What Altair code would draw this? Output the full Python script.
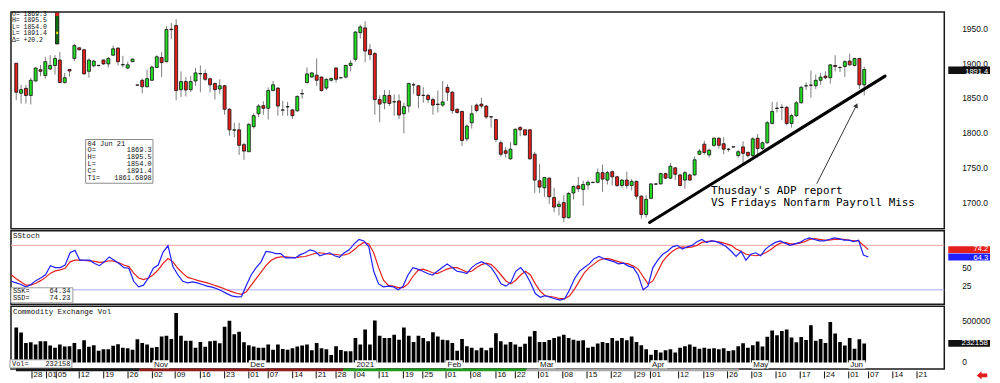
import altair as alt
import pandas as pd

# ---------------- data ----------------
opens = [1900.4, 1857.3, 1864.3, 1854.1, 1874.9, 1891.1, 1882.8, 1892.1, 1897.2, 1905.0,
         1872.6, 1891.6, 1907.3, 1922.6, 1919.8, 1888.8, 1896.7, 1897.0, 1905.0, 1899.5,
         1912.0, 1922.2, 1898.1, 1893.5, 1902.7, 1869.2, 1875.9, 1866.6, 1875.9, 1894.4,
         1908.7, 1902.7, 1949.5, 1954.6, 1862.4, 1874.0, 1862.4, 1874.9, 1885.1, 1885.6,
         1878.2, 1871.2, 1863.4, 1868.0, 1834.2, 1804.1, 1804.6, 1783.3, 1773.1, 1809.2,
         1827.7, 1839.3, 1835.6, 1861.1, 1864.7, 1833.0, 1837.5, 1833.3, 1831.9, 1856.3,
         1872.6, 1880.5, 1883.3, 1880.5, 1864.7, 1875.9, 1893.5, 1879.6, 1880.5, 1897.2,
         1906.0, 1944.4, 1951.3, 1919.8, 1914.3, 1848.1, 1843.5, 1854.1, 1844.8, 1846.2,
         1827.7, 1838.8, 1869.5, 1868.0, 1854.3, 1854.1, 1848.1, 1841.6, 1840.2, 1865.7,
         1858.7, 1834.2, 1831.0, 1791.6, 1814.7, 1840.2, 1841.6, 1838.8, 1823.3, 1819.4,
         1786.0, 1774.5, 1762.9, 1783.3, 1807.8, 1804.6, 1804.6, 1769.4, 1731.4, 1721.2,
         1735.1, 1707.3, 1694.4, 1699.9, 1678.2, 1713.8, 1724.0, 1718.9, 1725.4, 1729.1,
         1729.1, 1743.0, 1732.3, 1744.4, 1737.0, 1724.5, 1732.3, 1724.5, 1730.5, 1709.2,
         1682.8, 1706.0, 1726.8, 1726.8, 1741.6, 1735.1, 1749.9, 1739.7, 1732.3, 1739.7,
         1739.7, 1769.4, 1784.0, 1768.5, 1782.3, 1792.5, 1784.6, 1776.8, 1779.9, 1767.5,
         1780.0, 1772.2, 1767.5, 1792.5, 1777.7, 1786.0, 1813.8, 1835.4, 1836.8, 1837.0,
         1813.8, 1825.0, 1843.5, 1867.8, 1869.0, 1868.0, 1875.9, 1881.9, 1879.6, 1897.2,
         1894.4, 1895.8, 1903.6, 1897.2, 1907.3, 1869.3]
highs = [1900.4, 1869.4, 1869.4, 1879.6, 1894.4, 1898.1, 1909.7, 1912.0, 1912.0, 1916.6,
         1886.5, 1891.6, 1928.2, 1923.6, 1921.2, 1907.3, 1905.0, 1898.0, 1906.0, 1909.7,
         1925.9, 1923.6, 1911.1, 1902.7, 1907.0, 1869.5, 1878.6, 1891.1, 1897.2, 1912.0,
         1916.6, 1953.6, 1958.3, 1963.8, 1888.8, 1880.5, 1881.9, 1893.5, 1897.2, 1891.1,
         1879.6, 1872.6, 1877.3, 1869.4, 1835.6, 1814.8, 1814.8, 1786.0, 1814.8, 1828.6,
         1841.6, 1845.8, 1865.7, 1875.0, 1865.7, 1846.2, 1844.8, 1834.7, 1854.1, 1863.4,
         1894.4, 1887.9, 1907.3, 1881.4, 1878.6, 1879.6, 1894.9, 1880.0, 1898.1, 1905.0,
         1946.7, 1956.0, 1960.6, 1928.2, 1916.6, 1854.1, 1862.0, 1862.0, 1855.5, 1855.5,
         1843.5, 1872.6, 1872.6, 1869.4, 1865.7, 1856.4, 1850.9, 1861.1, 1874.9, 1870.3,
         1860.1, 1835.6, 1832.4, 1812.4, 1840.2, 1842.5, 1850.9, 1840.2, 1825.0, 1820.3,
         1789.3, 1780.0, 1787.0, 1806.4, 1810.1, 1804.6, 1805.5, 1773.1, 1755.5, 1737.0,
         1736.0, 1721.2, 1702.7, 1710.6, 1715.2, 1724.5, 1737.0, 1731.4, 1732.3, 1730.0,
         1749.0, 1754.6, 1745.3, 1746.2, 1738.4, 1733.7, 1744.4, 1733.7, 1731.4, 1710.6,
         1710.6, 1727.7, 1727.5, 1743.0, 1743.0, 1756.9, 1750.9, 1741.6, 1745.3, 1741.6,
         1766.1, 1776.8, 1789.0, 1777.7, 1793.9, 1793.9, 1793.9, 1778.6, 1781.0, 1775.4,
         1787.9, 1773.1, 1793.9, 1798.5, 1787.9, 1817.1, 1844.8, 1844.8, 1841.6, 1838.8,
         1827.7, 1846.2, 1868.0, 1872.6, 1889.8, 1884.2, 1886.5, 1888.8, 1899.0, 1912.0,
         1895.8, 1905.0, 1914.3, 1908.3, 1908.3, 1895.5]
lows = [1847.2, 1842.5, 1842.5, 1841.1, 1874.0, 1881.9, 1878.2, 1890.7, 1884.2, 1872.6,
        1871.2, 1881.0, 1903.6, 1918.9, 1884.2, 1879.6, 1894.4, 1896.0, 1898.1, 1894.4,
        1911.1, 1897.2, 1894.4, 1892.1, 1902.0, 1868.5, 1857.3, 1865.7, 1874.9, 1893.5,
        1880.5, 1901.8, 1935.1, 1847.2, 1851.8, 1852.7, 1858.7, 1868.0, 1858.7, 1874.9,
        1858.7, 1848.1, 1856.4, 1826.3, 1796.2, 1793.9, 1768.5, 1761.5, 1773.1, 1806.4,
        1823.1, 1826.3, 1819.4, 1860.1, 1824.9, 1824.9, 1824.9, 1820.3, 1831.0, 1849.5,
        1871.2, 1879.6, 1868.0, 1859.7, 1862.0, 1874.0, 1872.6, 1879.0, 1878.6, 1888.8,
        1902.7, 1936.0, 1901.8, 1905.0, 1826.3, 1815.7, 1834.2, 1838.8, 1824.9, 1820.3,
        1799.5, 1829.6, 1856.4, 1835.6, 1843.5, 1843.5, 1826.3, 1829.6, 1837.9, 1846.2,
        1827.7, 1827.7, 1781.4, 1787.9, 1806.4, 1829.6, 1835.6, 1820.3, 1807.8, 1787.0,
        1766.1, 1764.7, 1761.5, 1782.3, 1795.3, 1796.2, 1761.5, 1713.8, 1713.8, 1708.3,
        1698.1, 1686.0, 1681.4, 1672.1, 1676.8, 1704.6, 1715.2, 1695.3, 1718.5, 1728.0,
        1727.7, 1715.2, 1725.9, 1724.5, 1722.2, 1721.2, 1719.8, 1717.5, 1704.6, 1676.8,
        1678.2, 1704.6, 1726.0, 1725.9, 1733.7, 1733.7, 1732.3, 1723.1, 1719.8, 1731.4,
        1738.4, 1768.5, 1769.0, 1764.7, 1780.0, 1777.7, 1769.4, 1773.1, 1779.0, 1764.7,
        1755.5, 1764.7, 1764.7, 1764.7, 1775.4, 1784.6, 1812.4, 1829.6, 1818.5, 1811.0,
        1807.8, 1823.1, 1842.5, 1862.0, 1850.9, 1863.4, 1869.4, 1877.3, 1871.2, 1888.8,
        1887.9, 1880.5, 1897.2, 1895.8, 1863.4, 1854.0]
closes = [1858.7, 1862.4, 1854.1, 1875.9, 1893.5, 1888.8, 1902.7, 1897.2, 1907.3, 1872.6,
          1879.6, 1889.3, 1925.9, 1919.8, 1885.1, 1905.0, 1903.6, 1897.4, 1899.5, 1907.3,
          1921.2, 1902.7, 1898.6, 1898.1, 1906.4, 1868.9, 1866.6, 1878.2, 1894.9, 1909.7,
          1901.3, 1949.0, 1948.8, 1861.1, 1874.0, 1862.0, 1874.0, 1886.5, 1885.6, 1877.3,
          1869.4, 1862.4, 1868.0, 1834.2, 1804.6, 1804.6, 1782.3, 1774.0, 1812.4, 1825.0,
          1838.8, 1835.6, 1861.1, 1869.4, 1838.8, 1833.3, 1838.0, 1825.0, 1852.7, 1856.8,
          1885.1, 1886.5, 1875.9, 1861.1, 1877.3, 1878.6, 1877.3, 1879.4, 1897.2, 1900.4,
          1945.3, 1952.7, 1918.0, 1912.9, 1848.1, 1841.6, 1854.1, 1842.5, 1845.0, 1825.9,
          1837.9, 1871.2, 1869.1, 1854.1, 1854.1, 1848.1, 1840.2, 1841.0, 1844.8, 1858.7,
          1832.4, 1829.6, 1789.3, 1810.1, 1827.7, 1832.4, 1838.8, 1823.1, 1823.1, 1790.7,
          1769.4, 1770.8, 1776.8, 1805.5, 1804.6, 1797.2, 1762.9, 1732.3, 1722.2, 1736.0,
          1708.3, 1693.4, 1697.5, 1678.2, 1712.9, 1723.1, 1719.8, 1725.9, 1729.1, 1728.7,
          1743.0, 1733.7, 1743.0, 1737.0, 1724.5, 1732.3, 1724.5, 1730.5, 1709.2, 1682.8,
          1704.6, 1726.8, 1726.4, 1741.6, 1735.1, 1752.2, 1740.7, 1724.5, 1743.0, 1732.3,
          1761.5, 1774.0, 1772.0, 1775.4, 1792.5, 1782.3, 1776.8, 1776.5, 1780.2, 1773.1,
          1770.8, 1767.5, 1791.6, 1777.7, 1786.0, 1814.8, 1831.0, 1835.8, 1837.0, 1813.8,
          1825.0, 1843.5, 1865.7, 1868.0, 1868.8, 1875.9, 1880.5, 1879.6, 1898.1, 1895.8,
          1894.2, 1902.7, 1898.1, 1907.3, 1869.4, 1891.4]
volumes = [426000, 364000, 238000, 246000, 219000, 258000, 258000, 207000, 180000, 219000,
           195000, 199000, 238000, 160000, 270000, 191000, 211000, 144000, 160000, 160000,
           203000, 223000, 180000, 172000, 156000, 282000, 238000, 219000, 180000, 188000,
           317000, 325000, 286000, 602000, 325000, 266000, 266000, 180000, 250000, 191000,
           258000, 266000, 235000, 434000, 508000, 344000, 375000, 246000, 211000, 195000,
           180000, 180000, 219000, 156000, 219000, 164000, 156000, 172000, 195000, 207000,
           219000, 148000, 238000, 172000, 160000, 90000, 199000, 152000, 137000, 137000,
           297000, 219000, 403000, 219000, 512000, 325000, 297000, 297000, 337000, 278000,
           426000, 325000, 250000, 325000, 297000, 258000, 368000, 317000, 278000, 270000,
           238000, 144000, 286000, 199000, 180000, 148000, 180000, 148000, 180000, 356000,
           258000, 219000, 250000, 219000, 191000, 227000, 317000, 383000, 250000, 250000,
           274000, 297000, 317000, 337000, 297000, 278000, 266000, 270000, 180000, 191000,
           231000, 250000, 238000, 297000, 266000, 297000, 270000, 317000, 250000, 211000,
           160000, 94000, 152000, 121000, 148000, 160000, 121000, 180000, 199000, 219000,
           191000, 168000, 180000, 168000, 172000, 160000, 172000, 141000, 148000, 199000,
           235000, 180000, 211000, 254000, 195000, 313000, 391000, 333000, 383000, 403000,
           305000, 246000, 309000, 274000, 454000, 266000, 286000, 238000, 493000, 352000,
           250000, 207000, 297000, 168000, 282000, 232158]
ssk = [31.5, 29.3, 27.1, 23.6, 27.1, 32.4, 35.9, 40.3, 52.6, 50.0,
       50.0, 53.5, 70.1, 73.2, 60.0, 60.0, 60.0, 55.6, 52.6, 57.8,
       64.4, 60.0, 55.6, 50.0, 49.1, 31.5, 24.1, 26.3, 35.9, 49.1,
       53.5, 71.0, 79.8, 51.3, 40.3, 31.5, 29.3, 30.6, 29.3, 27.1,
       24.9, 23.6, 21.4, 18.4, 14.9, 11.8, 10.5, 10.9, 26.3, 40.3,
       50.0, 57.8, 71.9, 71.0, 68.8, 68.8, 63.1, 63.1, 63.1, 67.5,
       70, 74, 72, 66, 68, 70, 66, 64, 70, 74, 82, 88, 86,
       78, 45, 28, 24, 25, 24, 20, 25, 40, 50, 48, 45,
       42, 40, 45, 50, 55, 50, 45, 44, 42, 50, 55, 58, 55, 50, 40, 28,
       25, 30, 45, 50, 42, 30, 15, 10, 12, 10, 8, 6, 8, 20, 35,
       45, 50, 55, 62, 65, 62, 60, 58, 55, 56, 52, 50, 40, 20, 25,
       50, 60, 68, 72, 78, 80, 75, 78, 80, 85, 88, 84, 86, 85, 82,
       78, 72, 65, 72, 60, 68, 70, 66, 75, 80, 84, 86, 83, 80, 82,
       84, 88, 90, 88, 86, 86, 88, 90, 89, 87, 87, 85, 87, 67, 64.34]
ssd = [40.3, 35.0, 30.6, 26.3, 26.3, 28.9, 32.4, 36.8, 42.5, 45.6,
       46.9, 49.1, 57.8, 60.0, 60.0, 59.6, 59.2, 58.3, 57.0, 57.8,
       59.2, 58.7, 56.5, 53.5, 51.3, 42.5, 35.9, 33.7, 35.9, 40.3,
       46.9, 55.6, 62.2, 57.8, 49.1, 42.5, 36.8, 35.0, 32.8, 31.1,
       29.3, 27.1, 24.9, 22.7, 20.1, 17.5, 15.3, 14.0, 17.5, 26.3,
       35.0, 43.8, 52.6, 59.6, 63.1, 64.4, 64.4, 64.0, 63.5, 64.4,
       65, 67, 69, 70, 69, 68, 68, 67, 67, 69, 74, 80, 84,
       82, 70, 50, 33, 26, 25, 23, 23, 28, 38, 46, 48,
       46, 43, 42, 45, 48, 50, 50, 47, 44, 45, 50, 54, 56, 54, 48, 40,
       32, 28, 33, 40, 45, 40, 28, 18, 12, 11, 10, 8, 8, 12, 21,
       32, 43, 50, 55, 60, 62, 62, 60, 58, 56, 55, 52, 48, 38, 28,
       32, 45, 58, 66, 72, 76, 78, 77, 78, 80, 84, 85, 86, 85, 84,
       82, 80, 75, 72, 68, 67, 66, 67, 70, 74, 79, 83, 84, 82, 82,
       83, 85, 88, 89, 88, 87, 87, 88, 88, 88, 87, 86, 86, 80, 74.23]

price_ticks = [1700, 1750, 1800, 1850, 1900, 1950]
stoch_ticks = [25, 50]
vol_ticks = [0, 500000]
tick_pos = [3.25, 6.26, 8.26, 13.0, 18.05, 23.07, 28.1, 32.8, 38.0, 43.0,
            48.0, 52.0, 57.05, 61.9, 66.0, 69.9, 74.9, 79.9, 83.9, 88.7,
            93.8, 99.0, 103.0, 107.8, 112.8, 117.8, 122.8, 127.7, 130.9, 136.7,
            141.9, 146.8, 151.8, 156.8, 161.8, 166.8, 171.8, 175.9, 180.9, 185.9]
tick_lab = ["28", "01", "05", "12", "19", "26", "02", "09", "16", "23",
            "01", "07", "14", "21", "28", "04", "11", "19", "25", "01",
            "08", "16", "22", "01", "08", "15", "22", "29", "01", "12",
            "19", "26", "03", "10", "17", "24", "01", "07", "14", "21"]
month_pos = [28.1, 48.0, 69.9, 88.7, 107.8, 130.9, 151.8, 171.8]
month_lab = ["Nov", "Dec", "2021", "Feb", "Mar", "Apr", "May", "Jun"]
strip_from = [-0.06, 25.4, 67.5, 105.3]
strip_to = [25.4, 67.5, 105.3, 149.2]
strip_col = ["#161616", "#8e1c1c", "#1f9a1f", "#a9a9a9"]

info_lines = ["O= 1869.3", "H= 1895.5", "L= 1854.0", "L= 1891.4", "\u0394=  +20.2"]
box_date = "04 Jun 21"
box_keys = ["O=", "H=", "L=", "C=", "T1="]
box_vals = ["1869.3", "1895.5", "1854.0", "1891.4", "1861.6898"]
note_lines = ["Thusday's ADP report", "VS Fridays Nonfarm Payroll Miss"]
note_x = [143.4, 143.4]
note_y = [1717.2, 1699.0]
trend_x, trend_x2, trend_y, trend_y2 = 130.7, 179.3, 1671.2, 1881.9
arrow_x, arrow_x2, arrow_y, arrow_y2 = 165.2, 173.4, 1727.0, 1840.0
last_close, last_k, last_d, last_vol = 1891.4, 64.34, 74.23, 232158

n = len(opens)
for arr in (highs, lows, closes, volumes, ssk, ssd):
    assert len(arr) == n, len(arr)

# ---------------- layout ----------------
W, H1, H2, H3 = 939, 218, 74, 63
GREEN, RED, BLUE = "#22dd22", "#e3201b", "#1f1fff"
MONO, SANS = "Liberation Mono", "Liberation Sans"
LAB_X = W + 18          # right-hand labels
BOX_X0, BOX_X1, BOX_TX = W + 4, W + 46, W + 44

def fx(xr):
    return (xr - 3) * W / 950
def fp(yr):
    return (yr - 2) * H1 / 224.5
def fs(yr):
    return (yr - 226.5) * H2 / 75.5
def fv(yr):
    return (yr - 302) * H3 / 65

XS = alt.Scale(domain=[-0.06, 190.5], nice=False, zero=False)
YP = alt.Scale(domain=[1662.2, 1974.0], nice=False, zero=False)
YS = alt.Scale(domain=[0.4, 99.7], nice=False, zero=False)
YV = alt.Scale(domain=[-78700, 684000], nice=False, zero=False)

df = pd.DataFrame(dict(i=list(range(n)), o=opens, h=highs, l=lows, c=closes,
                       v=volumes, k=ssk, d=ssd))
X = alt.X("i:Q", scale=XS, axis=None)
one = pd.DataFrame({"a": [0]})

def T(text, x, y, size=8, font=MONO, align="left", color="#111"):
    return alt.Chart(one).mark_text(text=text, align=align, baseline="middle", font=font,
                                    fontSize=size, color=color).encode(
        x=alt.value(x), y=alt.value(y))

def R(x0, x1, y0, y1, fill, stroke=None, sw=0.0):
    kw = dict(fill=fill)
    if stroke:
        kw.update(stroke=stroke, strokeWidth=sw)
    return alt.Chart(one).mark_rect(**kw).encode(
        x=alt.value(x0), x2=alt.value(x1), y=alt.value(y0), y2=alt.value(y1))

def axis_labels(values, scale, fmt):
    d = pd.DataFrame({"v": values})
    return alt.Chart(d).mark_text(align="left", baseline="middle", font=SANS, fontSize=8.5,
                                  color="#111").encode(
        x=alt.value(LAB_X), y=alt.Y("v:Q", scale=scale, axis=None),
        text=alt.Text("v:Q", format=fmt))

def value_box(value, up, down, scale, fill, fmt, size=8, dy=0):
    d = pd.DataFrame({"v": [value], "c": [fill]})
    box = alt.Chart(d).transform_calculate(a=f"datum.v + {up}", b=f"datum.v - {down}") \
        .mark_rect().encode(x=alt.value(BOX_X0), x2=alt.value(BOX_X1),
                            y=alt.Y("a:Q", scale=scale, axis=None), y2="b:Q",
                            color=alt.Color("c:N", scale=None))
    txt = alt.Chart(d).mark_text(align="right", baseline="middle", font=SANS, fontSize=size,
                                 color="#fff", dy=dy).encode(
        x=alt.value(BOX_TX), y=alt.Y("v:Q", scale=scale, axis=None),
        text=alt.Text("v:Q", format=fmt))
    return [box, txt]

# ---------------- price panel ----------------
wicks = alt.Chart(df).mark_rule(color="#7d7d7d", strokeWidth=1, clip=True).encode(
    x=X, y=alt.Y("l:Q", scale=YP, axis=None), y2="h:Q")
bodies = alt.Chart(df).mark_bar(size=3.0, stroke="#111", strokeWidth=0.8, clip=True).encode(
    x=X, y=alt.Y("o:Q", scale=YP, axis=None), y2="c:Q",
    color=alt.condition(alt.datum.c >= alt.datum.o, alt.value(GREEN), alt.value(RED)))

tdf = pd.DataFrame({"x": [trend_x], "x2": [trend_x2], "y": [trend_y], "y2": [trend_y2]})
trend = alt.Chart(tdf).mark_rule(color="#000", strokeWidth=3, strokeCap="round").encode(
    x=alt.X("x:Q", scale=XS, axis=None), x2="x2:Q",
    y=alt.Y("y:Q", scale=YP, axis=None), y2="y2:Q")
adf = pd.DataFrame({"x": [arrow_x], "x2": [arrow_x2], "y": [arrow_y], "y2": [arrow_y2]})
arrow = alt.Chart(adf).mark_rule(color="#333", strokeWidth=1).encode(
    x=alt.X("x:Q", scale=XS, axis=None), x2="x2:Q",
    y=alt.Y("y:Q", scale=YP, axis=None), y2="y2:Q")
head = alt.Chart(adf).mark_point(shape="triangle-up", filled=True, color="#333", size=28,
                                 angle=26, opacity=1).encode(
    x=alt.X("x2:Q", scale=XS, axis=None), y=alt.Y("y2:Q", scale=YP, axis=None))
ndf = pd.DataFrame({"x": note_x, "y": note_y, "t": note_lines})
note = alt.Chart(ndf).mark_text(align="left", baseline="middle", font="DejaVu Sans Mono",
                                fontSize=11, color="#000").encode(
    x=alt.X("x:Q", scale=XS, axis=None), y=alt.Y("y:Q", scale=YP, axis=None), text="t:N")

pl = [axis_labels(price_ticks, YP, ".1f"), wicks, bodies, trend, arrow, head, note]
for k, line in enumerate(info_lines):
    pl.append(T(line, 1, fp(3.6 + 6.7 * k), size=6.5))
# mini bar next to the info block
pl.append(R(fx(48.3), fx(51.7), fp(2.7), fp(35), "#0b6b0b", "#111", 0.8))
pl.append(R(fx(48.3), fx(51.7), fp(2.7), fp(6), RED))
pl.append(R(fx(49.0), fx(51.0), fp(22.3), fp(24.8), "#f2e600"))
# data window box
pl.append(R(fx(79), fx(147.5), fp(134), fp(179.3), "#ffffff", "#8a8a8a", 1))
pl.append(T(box_date, fx(81), fp(138.3), size=7))
for k, (kk, vv) in enumerate(zip(box_keys, box_vals)):
    yy = fp(145 + 7.2 * k)
    pl.append(T(kk, fx(81), yy, size=7))
    pl.append(T(vv, fx(146.3), yy, size=7, align="right"))
pl += value_box(last_close, 4.4, 6.6, YP, "#111111", ".1f", size=7.5, dy=2.2)
price = alt.layer(*pl).properties(width=W, height=H1)

# ---------------- stochastic panel ----------------
hl = pd.DataFrame({"y": [80, 20], "c": ["#f2a3a3", "#a9a9f6"]})
sl = [
    axis_labels(stoch_ticks, YS, "d"),
    alt.Chart(hl).mark_rule(strokeWidth=1).encode(
        y=alt.Y("y:Q", scale=YS, axis=None), color=alt.Color("c:N", scale=None)),
    alt.Chart(df).mark_line(color=RED, strokeWidth=1.2, clip=True).encode(
        x=X, y=alt.Y("d:Q", scale=YS, axis=None)),
    alt.Chart(df).mark_line(color=BLUE, strokeWidth=1.2, clip=True).encode(
        x=X, y=alt.Y("k:Q", scale=YS, axis=None)),
]
sl.append(T("SStoch", fx(5), fs(232.3), size=7.5))
sl.append(R(fx(3), fx(66), fs(285), fs(300.5), "#ffffff", "#9a9a9a", 1))
sl.append(T("SSK=", fx(5), fs(288.6), size=7))
sl.append(T(f"{last_k:.2f}", fx(63.5), fs(288.6), size=7, align="right"))
sl.append(T("SSD=", fx(5), fs(295.8), size=7))
sl.append(T(f"{last_d:.2f}", fx(63.5), fs(295.8), size=7, align="right"))
sl += value_box(last_d, 4.6, 4.6, YS, RED, ".1f", size=7.5, dy=-1)
sl += value_box(last_k, 4.6, 4.6, YS, BLUE, ".1f", size=7.5, dy=1)
stoch = alt.layer(*sl).properties(width=W, height=H2)

# ---------------- volume panel ----------------
vl = [
    axis_labels(vol_ticks, YV, "d"),
    alt.Chart(df).mark_bar(size=3.7, color="#000", clip=True).encode(
        x=X, y=alt.Y("v:Q", scale=YV, axis=None), y2=alt.Y2(datum=0)),
]
vl.append(T("Commodity Exchange Vol", fx(5), fv(307.5), size=7.5))
vl.append(R(fx(2), fx(65), fv(357.5), fv(366), "#ffffff", "#9a9a9a", 1))
vl.append(T("Vol=", fx(4), fv(361.8), size=7))
vl.append(T(str(last_vol), fx(63.5), fv(361.8), size=7, align="right"))
mdf = pd.DataFrame({"m": month_pos, "t": month_lab})
mdf["m2"] = mdf["m"] + mdf["t"].str.len() * 0.95 + 0.6
vl.append(alt.Chart(mdf).mark_rect(color="#ffffff").encode(
    x=alt.X("m:Q", scale=XS, axis=None), x2="m2:Q",
    y=alt.value(fv(358)), y2=alt.value(fv(366.6))))
vl.append(alt.Chart(mdf).mark_text(align="left", baseline="middle", font=SANS, fontSize=8,
                                   color="#111", dx=1.5).encode(
    x=alt.X("m:Q", scale=XS, axis=None), y=alt.value(fv(362.6)), text="t:N"))
vl += value_box(last_vol, 41000, 41000, YV, "#111111", "d", size=8)
# contract strip and date axis below the panel
sdf = pd.DataFrame({"a": strip_from, "b": strip_to, "c": strip_col})
vl.append(alt.Chart(sdf).mark_rect().encode(
    x=alt.X("a:Q", scale=XS, axis=None), x2="b:Q",
    y=alt.value(H3 - 0.5), y2=alt.value(H3 + 2.2), color=alt.Color("c:N", scale=None)))
tdf2 = pd.DataFrame({"p": tick_pos, "t": tick_lab})
vl.append(alt.Chart(tdf2).mark_rule(color="#111", strokeWidth=1).encode(
    x=alt.X("p:Q", scale=XS, axis=None), y=alt.value(H3 + 2.5), y2=alt.value(H3 + 9.5)))
vl.append(alt.Chart(tdf2).mark_text(align="left", baseline="middle", font=SANS, fontSize=8,
                                    color="#111", dx=1.5).encode(
    x=alt.X("p:Q", scale=XS, axis=None), y=alt.value(H3 + 6.3), text="t:N"))
ARROW = "M -1 0 L -0.1 -0.8 L -0.1 -0.35 L 1 -0.35 L 1 0.35 L -0.1 0.35 L -0.1 0.8 Z"
vl.append(alt.Chart(one).mark_point(shape=ARROW, filled=True, color="#e31a1a", size=110,
                                    opacity=1).encode(
    x=alt.value(W + 38), y=alt.value(H3 + 6.5)))
vol = alt.layer(*vl).properties(width=W, height=H3)

chart = (alt.vconcat(price, stoch, vol, spacing=0)
         .properties(padding=0, background="#ffffff")
         .configure_view(stroke="#1a1a1a", strokeWidth=1.5))

chart.save("out.html", embed_options={"renderer": "svg", "actions": False})
